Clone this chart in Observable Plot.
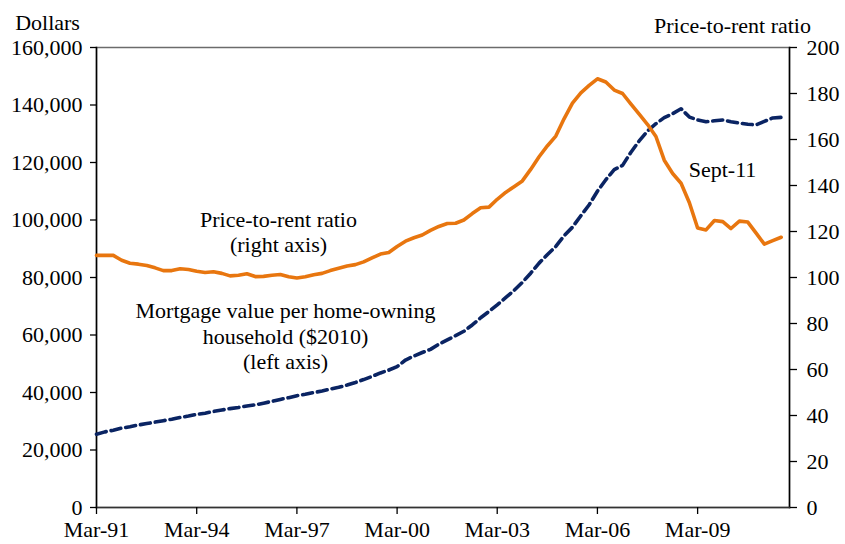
<!DOCTYPE html>
<html>
<head>
<meta charset="utf-8">
<script src="https://cdn.jsdelivr.net/npm/d3@7"></script>
<script src="https://cdn.jsdelivr.net/npm/@observablehq/plot@0.6"></script>
<style>
  html, body { margin: 0; padding: 0; background: #fff; }
  svg text { font-family: 'Liberation Serif', 'Times New Roman', serif; }
</style>
</head>
<body>
<div id="chart"></div>
<script>
// Quarterly observations, first quarter = Mar-91, last = Sep-11
const firstQuarter = "Mar-91";

// Price-to-rent ratio (right axis)
const priceToRent = [
  109.6, 109.6, 109.6, 107.5, 106.2, 105.8, 105.2, 104.2, 103.0, 103.0,
  103.8, 103.5, 102.7, 102.2, 102.5, 101.8, 100.7, 101.0, 101.6, 100.4,
  100.5, 101.0, 101.3, 100.3, 99.8, 100.3, 101.2, 101.8, 103.0, 104.0,
  105.0, 105.6, 106.8, 108.5, 110.2, 110.9, 113.5, 115.8, 117.3, 118.5,
  120.5, 122.2, 123.5, 123.6, 125.0, 127.8, 130.3, 130.6, 134.0, 137.0,
  139.5, 142.0, 147.0, 152.5, 157.3, 161.5, 169.0, 175.8, 180.3, 183.5,
  186.4, 185.0, 181.5, 180.0, 175.5, 171.0, 166.5, 161.3, 151.0, 145.2,
  141.0, 132.5, 121.5, 120.7, 124.8, 124.3, 121.3, 124.5, 124.1, 119.3,
  114.5, 116.0, 117.5
];

// Mortgage value per home-owning household, $2010 (left axis)
const mortgageValue = [
  25500, 26300, 26900, 27600, 28100, 28700, 29200, 29700, 30200, 30700,
  31300, 31800, 32400, 32800, 33400, 33900, 34400, 34800, 35300, 35700,
  36300, 36900, 37600, 38200, 38900, 39400, 40000, 40500, 41200, 41800,
  42600, 43500, 44500, 45600, 46800, 47800, 49000, 51300, 52700, 53900,
  55000, 56800, 58300, 59800, 61300, 63500, 66000, 68200, 70500, 73000,
  75500, 78300, 81500, 85000, 88000, 90800, 94500, 97500, 101500, 105300,
  110000, 114000, 117500, 119000, 123500, 127500, 131000, 133500, 135600, 137000,
  138700, 135800, 134800, 134200, 134500, 134800, 134200, 133700, 133300, 133100,
  134300, 135500, 135700
];

const xTickLabels = ["Mar-91", "Mar-94", "Mar-97", "Mar-00", "Mar-03", "Mar-06", "Mar-09"];
const leftTicks = [0, 20000, 40000, 60000, 80000, 100000, 120000, 140000, 160000];
const rightTicks = [0, 20, 40, 60, 80, 100, 120, 140, 160, 180, 200];

const leftAxisTitle = "Dollars";
const rightAxisTitle = "Price-to-rent ratio";
const ratioLabel = "Price-to-rent ratio\n(right axis)";
const mortgageLabel = "Mortgage value per home-owning\nhousehold ($2010)\n(left axis)";
const dateLabel = "Sept-11";

// ---- build table ----
const parseQ = d3.utcParse("%b-%y");
const start = parseQ(firstQuarter);
const quarterDate = i => d3.utcMonth.offset(start, 3 * i);
const rows = priceToRent.map((r, i) => ({ date: quarterDate(i), ratio: r, mortgage: mortgageValue[i] }));
const leftMax = leftTicks[leftTicks.length - 1];
const rightMax = rightTicks[rightTicks.length - 1];
const k = leftMax / rightMax; // right-axis value -> left-axis scale
const xDomain = [quarterDate(0), quarterDate(priceToRent.length)];

const fontFamily = "'Liberation Serif', 'Times New Roman', serif";
const txt = { fontFamily, fontSize: 22, fill: "#000", textAnchor: "middle", frameAnchor: "top-left" };

const chart = Plot.plot({
  width: 845,
  height: 544,
  marginLeft: 96,
  marginRight: 56,
  marginTop: 47,
  marginBottom: 37,
  style: { fontFamily, fontSize: "22px", color: "#000", background: "#fff", overflow: "visible" },
  x: { type: "utc", domain: xDomain },
  y: { domain: [0, leftMax] },
  marks: [
    Plot.frame({ stroke: "#6b6b6b", strokeWidth: 1.5 }),
    Plot.frame({ anchor: "left", stroke: "#000", strokeWidth: 1.5 }),
    Plot.frame({ anchor: "right", stroke: "#000", strokeWidth: 1.5 }),
    Plot.frame({ anchor: "bottom", stroke: "#333", strokeWidth: 1.5 }),
    Plot.axisX({
      ticks: xTickLabels.map(parseQ),
      tickFormat: d3.utcFormat("%b-%y"),
      tickSize: 7, tickPadding: 7, label: null, stroke: "#000", strokeWidth: 1.3, fontFamily, fontSize: 22
    }),
    Plot.axisY({
      ticks: leftTicks, tickFormat: d3.format(","),
      tickSize: 6, tickPadding: 8, label: null, stroke: "#000", strokeWidth: 1.3, fontFamily, fontSize: 22
    }),
    Plot.axisY({
      anchor: "right", ticks: rightTicks.map(v => v * k), tickFormat: d => String(Math.round(d / k)),
      tickSize: 7, tickPadding: 10, label: null, stroke: "#000", strokeWidth: 1.3, fontFamily, fontSize: 22
    }),
    Plot.lineY(rows, { x: "date", y: "mortgage", stroke: "#0a2463", strokeWidth: 3.6, strokeDasharray: "10,5" }),
    Plot.lineY(rows, { x: "date", y: d => d.ratio * k, stroke: "#E8760F", strokeWidth: 3.6, strokeLinejoin: "round" }),
    Plot.text([leftAxisTitle], { ...txt, text: d => d, dx: -49, dy: -33 }),
    Plot.text([rightAxisTitle], { ...txt, text: d => d, dx: 636, dy: -30 }),
    Plot.text([ratioLabel], { ...txt, text: d => d, dx: 182, dy: 184, lineAnchor: "middle", lineHeight: 1.15 }),
    Plot.text([mortgageLabel], { ...txt, text: d => d, dx: 189, dy: 288, lineAnchor: "middle", lineHeight: 1.15 }),
    Plot.text([dateLabel], { ...txt, text: d => d, dx: 626, dy: 114 })
  ]
});
document.getElementById("chart").append(chart);
</script>
</body>
</html>
